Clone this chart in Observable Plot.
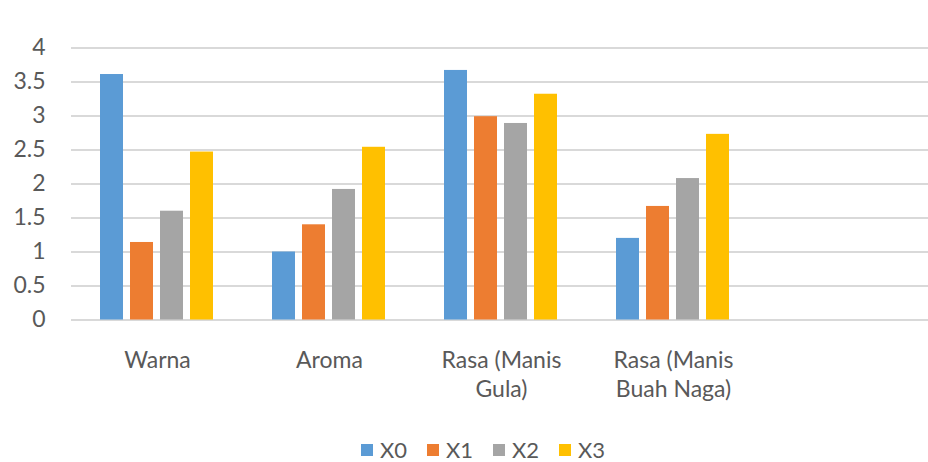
<!DOCTYPE html>
<html><head><meta charset="utf-8">
<script src="https://cdn.jsdelivr.net/npm/d3@7"></script>
<script src="https://cdn.jsdelivr.net/npm/@observablehq/plot@0.6"></script>
<style>
body{margin:0;background:#fff;font-family:Lato,sans-serif;}
#legend{display:flex;justify-content:center;padding-left:38px;height:26px;line-height:26px;align-items:center;margin-top:7px;font-size:22px;color:#595959;}
.item{display:flex;align-items:center;margin:0 10px;}
.sw{width:12px;height:12px;margin-right:7px;}
</style></head><body><div id="chart"></div><div id="legend"></div>
<script>
const categories = ["Warna", "Aroma", "Rasa (Manis\nGula)", "Rasa (Manis\nBuah Naga)", ""];
const series = ["X0", "X1", "X2", "X3"];
const colors = ["#5B9BD5", "#ED7D31", "#A5A5A5", "#FFC000"];
const X0 = [3.61, 1.00, 3.67, 1.20];
const X1 = [1.14, 1.40, 2.99, 1.67];
const X2 = [1.60, 1.92, 2.89, 2.08];
const X3 = [2.47, 2.54, 3.32, 2.73];
const yTicks = [0, 0.5, 1, 1.5, 2, 2.5, 3, 3.5, 4];

const valuesBySeries = {X0, X1, X2, X3};
const data = [];
series.forEach(s => valuesBySeries[s].forEach((v, i) => data.push({cat: categories[i], series: s, value: v})));
const grid = [];
categories.forEach(c => yTicks.forEach(t => grid.push({cat: c, tick: t})));

const chart = Plot.plot({
  width: 928,
  height: 430,
  marginTop: 47.5,
  marginBottom: 110.5,
  marginLeft: 70,
  marginRight: -4,
  style: {fontFamily: "Lato, sans-serif", color: "#595959", background: "#fff", overflow: "hidden"},
  fx: {domain: categories, padding: 0, label: null},
  x: {domain: series, axis: null, paddingInner: 0.226, paddingOuter: 0.894},
  y: {domain: [0, 4], label: null},
  color: {domain: series, range: colors},
  marks: [
    Plot.ruleY(grid, {fx: "cat", y: "tick", stroke: "#d9d9d9", strokeWidth: 1.8}),
    Plot.barY(data, {fx: "cat", x: "series", y: "value", fill: "series"}),
    Plot.axisY(yTicks, {tickSize: 0, tickPadding: 26, fontSize: 23, fill: "#595959", tickFormat: d => String(d), label: null}),
    Plot.axisFx({anchor: "bottom", tickSize: 0, tickPadding: 27, fontSize: 23, fill: "#595959", lineHeight: 1.26, label: null, tickFormat: d => d})
  ]
});
document.getElementById("chart").appendChild(chart);

const legend = document.getElementById("legend");
series.forEach((s, i) => {
  const it = document.createElement("div");
  it.className = "item";
  const sw = document.createElement("div");
  sw.className = "sw";
  sw.style.background = colors[i];
  const t = document.createElement("span");
  t.textContent = s;
  it.appendChild(sw); it.appendChild(t);
  legend.appendChild(it);
});
</script></body></html>
